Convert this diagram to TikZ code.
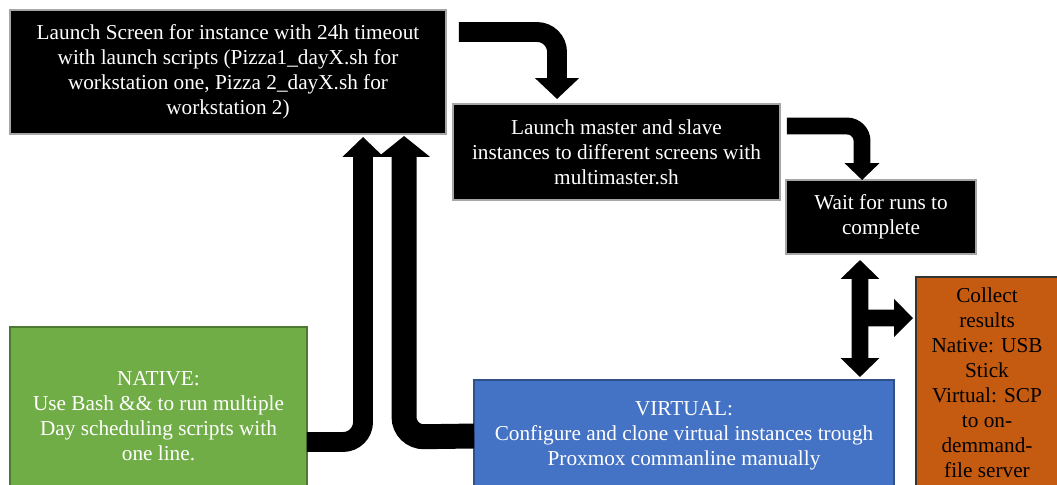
\documentclass[tikz,border=0pt]{standalone}
\usepackage{fontspec}
\setmainfont{Liberation Serif}
\usetikzlibrary{arrows.meta,calc}

\definecolor{natgreen}{HTML}{70AD47}
\definecolor{virtblue}{HTML}{4472C4}
\definecolor{resorange}{HTML}{C55A11}

\tikzset{
  step box/.style={draw=gray!70, line width=0.85pt, fill=black, text=white,
    align=center, inner sep=0pt, outer sep=0pt,
    font=\rmfamily\fontsize{12.1}{14.2}\selectfont},
  fat/.style={draw=black, line width=#1, rounded corners=0.4cm},
}

\begin{document}
\begin{tikzpicture}[x=0.02cm, y=-0.02cm]
    \clip (0,0) rectangle (1057,484);
    \fill[white] (0,0) rectangle (1057,484);
    % boxes
    \node[step box, minimum width=8.72cm, minimum height=2.48cm] (screen) at (228,72)
      {Launch Screen for instance with 24h timeout\\with launch scripts (Pizza1\_dayX.sh for\\workstation one, Pizza 2\_dayX.sh for\\workstation 2)};
    \node[step box, minimum width=6.54cm, minimum height=1.92cm] (master) at (616.5,152)
      {Launch master and slave\\instances to different screens with\\multimaster.sh};
    \node[step box, minimum width=3.8cm, minimum height=1.48cm] (wait) at (881,217)
      {Wait for runs to\\complete};
    \node[step box, fill=resorange, draw=black!80, text=black, minimum width=2.84cm, minimum height=4.24cm] (collect) at (987,383)
      {Collect\\results\\Native: USB\\Stick\\Virtual: SCP\\to on-\\demmand-\\file server};
    \node[step box, fill=natgreen, draw=natgreen!70!black, minimum width=5.94cm, minimum height=3.56cm] (native) at (158.5,416)
      {NATIVE:\\Use Bash \&\& to run multiple\\Day scheduling scripts with\\one line.};
    \node[step box, fill=virtblue, draw=virtblue!70!black, minimum width=8.4cm, minimum height=2.24cm] (virtual) at (684,436)
      {VIRTUAL:\\Configure and clone virtual instances trough\\Proxmox commanline manually};

    % bent arrows
    \draw[fat=11.3pt, -{Triangle[length=11.9pt, width=24.4pt]}]
      ($(screen.north east)+(13,22)$) -- ($(master.north west)+(104,-72)$) -- ($(master.north west)+(104,-5)$);
    \draw[fat=9.6pt, rounded corners=0.3cm, -{Triangle[length=9.6pt, width=19.3pt]}]
      ($(master.east)+(7,-26)$) -- ($(wait.north west)+(76,-54)$) -- ($(wait.north west)+(76,0)$);

    % double arrow with branch to results
    \coordinate (fork) at ($(wait.south west)+(74,64)$);
    \draw[draw=black, line width=9.6pt, {Triangle[length=10.8pt, width=21.5pt]}-{Triangle[length=10.8pt, width=21.5pt]}]
      ($(wait.south west)+(74,6)$) -- ($(virtual.north east)+(-34,-3)$);
    \draw[draw=black, line width=9.6pt, -{Triangle[length=10.8pt, width=21pt]}]
      (fork) -- ($(collect.north west)+(-3,41)$);

    % arrows back up to the screen box
    \draw[fat=11.3pt, -{Triangle[length=11.3pt, width=22.7pt]}]
      ($(native.north east)+(0,115)$) -- ($(screen.south west)+(353,308)$) -- ($(screen.south west)+(353,3)$);
    \draw[fat=14.2pt, -{Triangle[length=11.9pt, width=28.9pt]}]
      (virtual.west) -- ($(screen.south west)+(394,303)$) -- ($(screen.south west)+(394,2)$);
\end{tikzpicture}
\end{document}
